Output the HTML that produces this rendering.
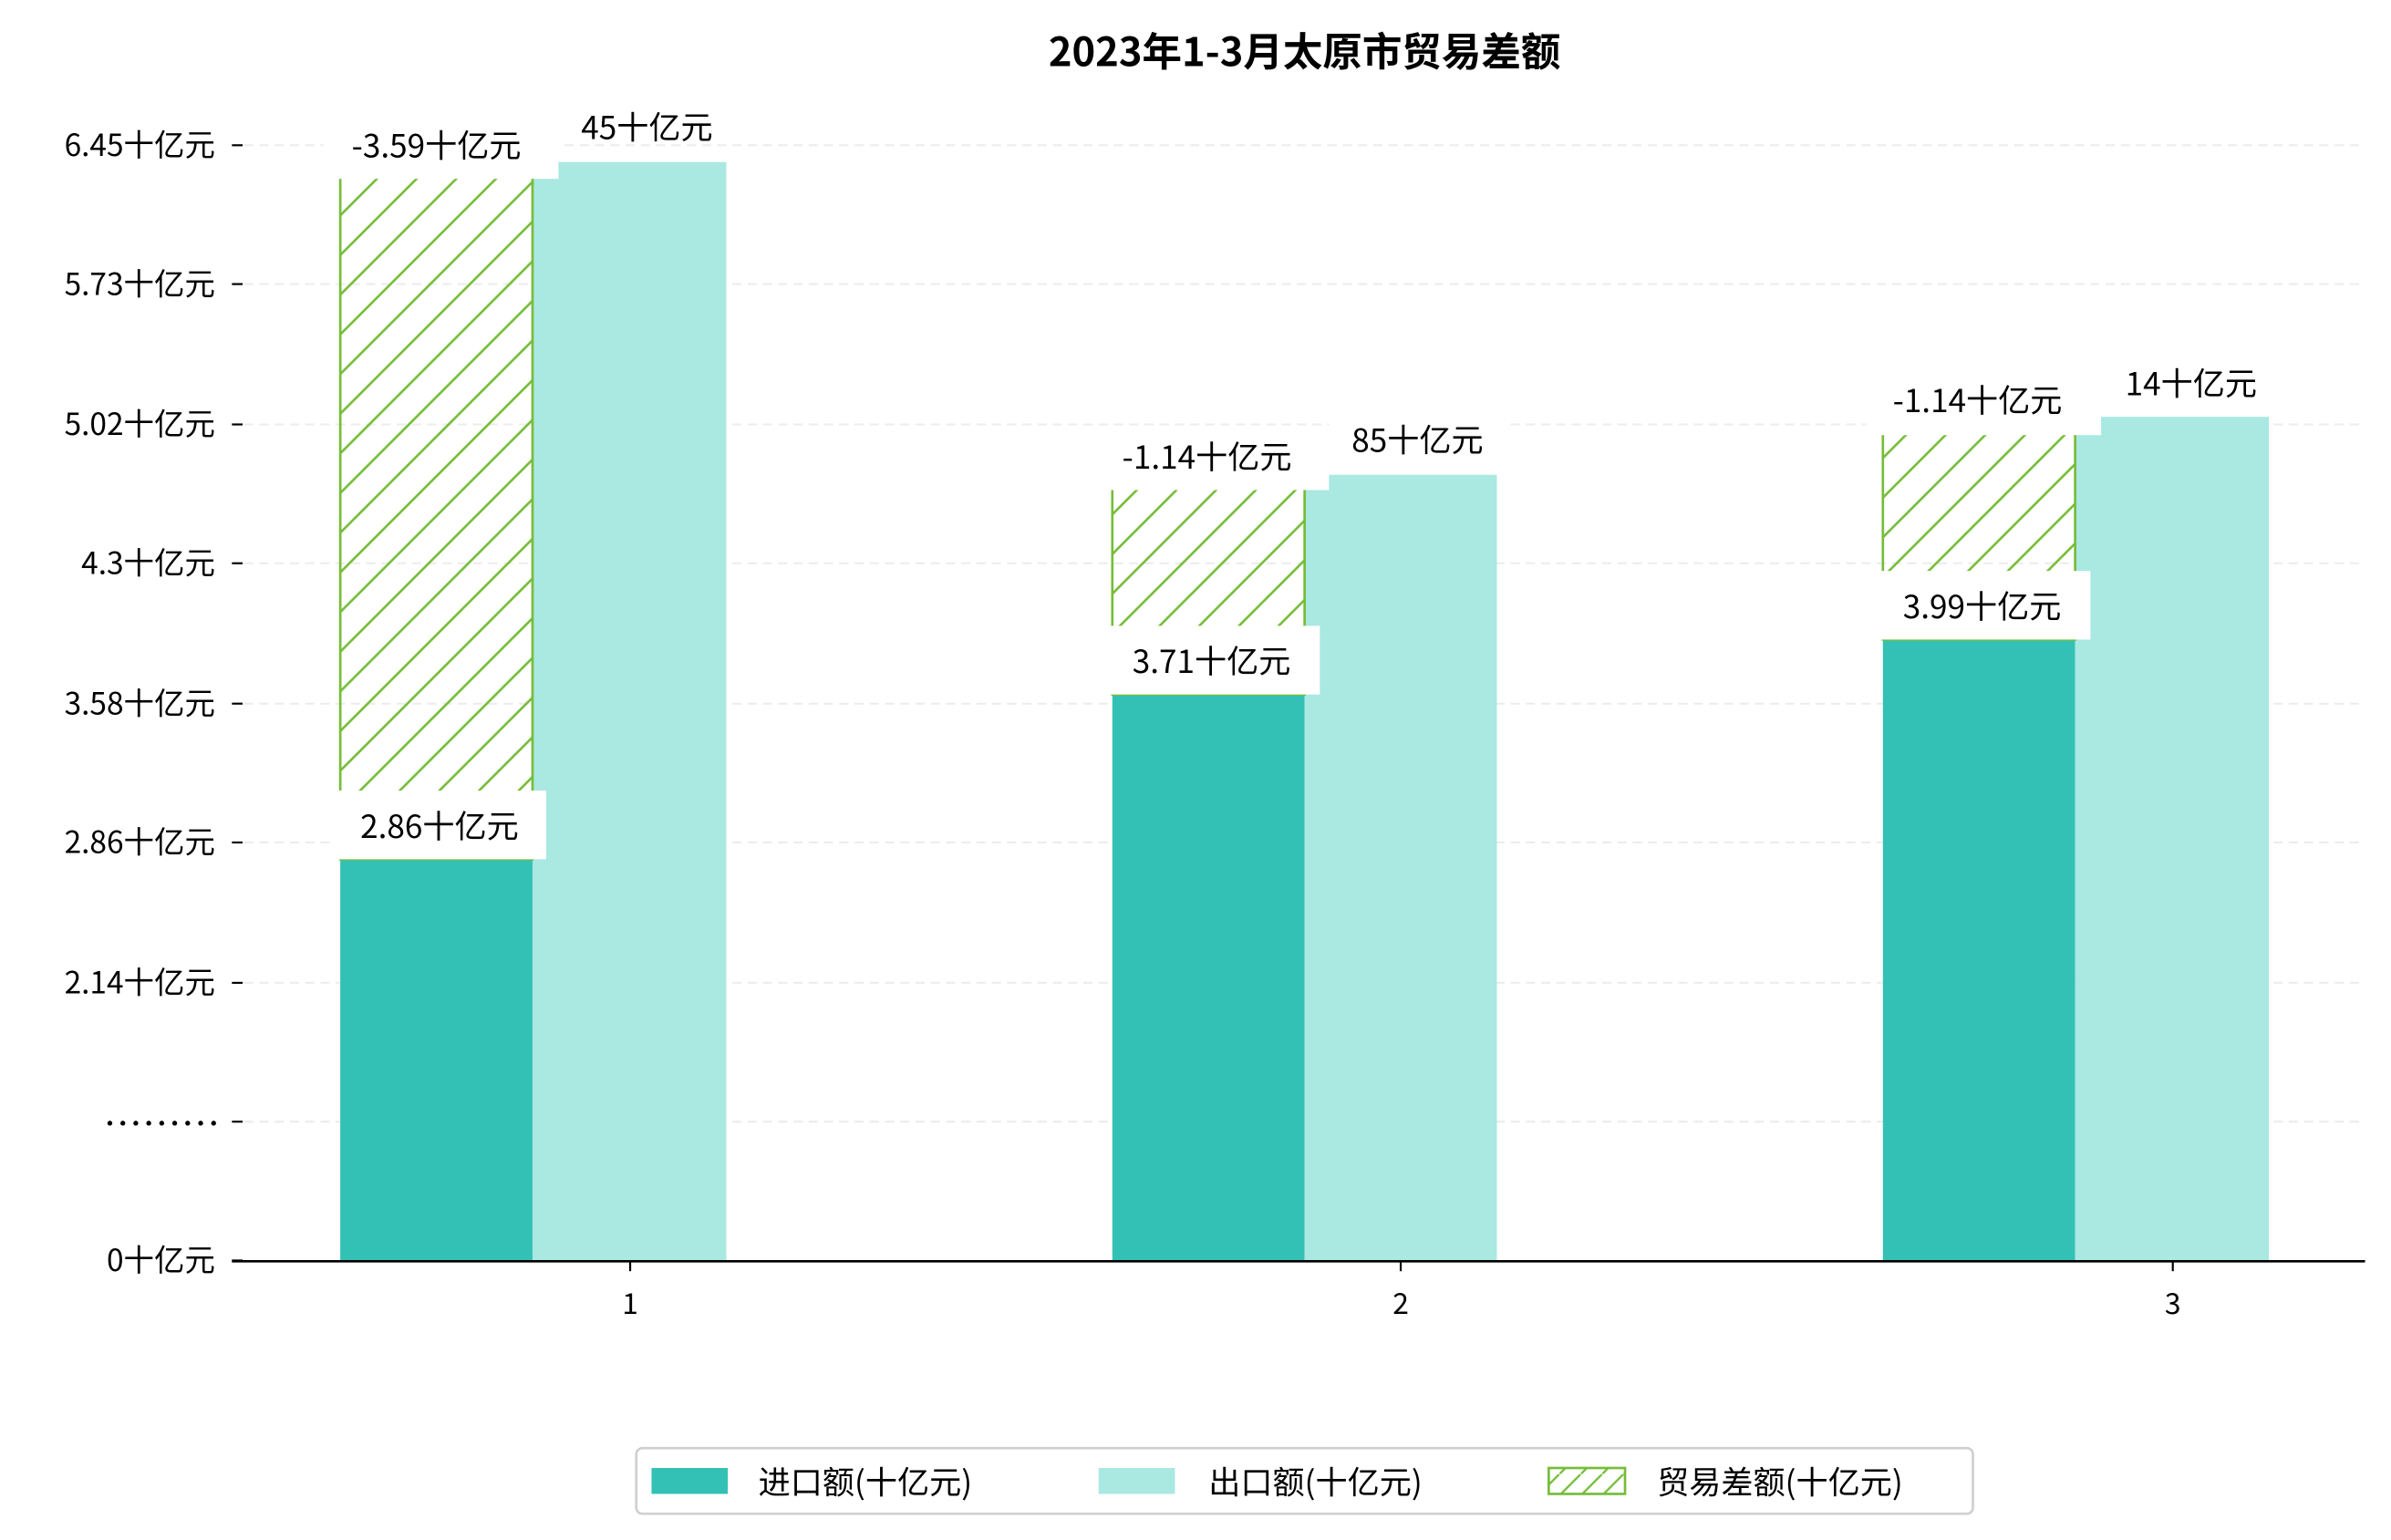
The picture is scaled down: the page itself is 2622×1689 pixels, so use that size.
<!DOCTYPE html>
<html><head><meta charset="utf-8"><style>html,body{margin:0;padding:0;background:#fff}svg{display:block}text{font-family:"WenQuanYi Zen Hei","Noto Sans CJK SC",sans-serif;fill:#000}</style></head><body>
<svg width="2622" height="1689" viewBox="0 0 1567 1009" xmlns="http://www.w3.org/2000/svg">
<defs>
<pattern id="h" patternUnits="userSpaceOnUse" width="26" height="26">
<path d="M-2,28 L28,-2 M-15,15 L15,-15 M11,41 L41,11" stroke="#76bd3a" stroke-width="1.6"/>
</pattern>
<pattern id="h2" patternUnits="userSpaceOnUse" width="14" height="14">
<path d="M-2,16 L16,-2" stroke="#76bd3a" stroke-width="1.4"/>
</pattern>
</defs>
<rect width="1567" height="1009" fill="#fff"/>
<text x="855" y="43" font-size="26" font-weight="bold" text-anchor="middle">2023年1-3月太原市贸易差额</text>
<g stroke="#ececec" stroke-width="1.2" stroke-dasharray="6,4">
<line x1="160" x2="1550" y1="95" y2="95"/><line x1="160" x2="1550" y1="186" y2="186"/><line x1="160" x2="1550" y1="278" y2="278"/><line x1="160" x2="1550" y1="369" y2="369"/><line x1="160" x2="1550" y1="461" y2="461"/><line x1="160" x2="1550" y1="552" y2="552"/><line x1="160" x2="1550" y1="644" y2="644"/><line x1="160" x2="1550" y1="735" y2="735"/>
</g>
<g font-size="20" text-anchor="end">
<text x="141" y="102">6.45十亿元</text><text x="141" y="193">5.73十亿元</text><text x="141" y="285">5.02十亿元</text><text x="141" y="376">4.3十亿元</text><text x="141" y="468">3.58十亿元</text><text x="141" y="559">2.86十亿元</text><text x="141" y="651">2.14十亿元</text><text x="141" y="833">0十亿元</text>
</g>
<g fill="#000"><circle cx="72" cy="736" r="1.6"/><circle cx="80.5" cy="736" r="1.6"/><circle cx="89" cy="736" r="1.6"/><circle cx="97.5" cy="736" r="1.6"/><circle cx="106" cy="736" r="1.6"/><circle cx="114.5" cy="736" r="1.6"/><circle cx="123" cy="736" r="1.6"/><circle cx="131.5" cy="736" r="1.6"/><circle cx="140" cy="736" r="1.6"/></g>
<g stroke="#000" stroke-width="1.3">
<line x1="152" x2="159" y1="95" y2="95"/><line x1="152" x2="159" y1="186" y2="186"/><line x1="152" x2="159" y1="278" y2="278"/><line x1="152" x2="159" y1="369" y2="369"/><line x1="152" x2="159" y1="461" y2="461"/><line x1="152" x2="159" y1="552" y2="552"/><line x1="152" x2="159" y1="644" y2="644"/><line x1="152" x2="159" y1="735" y2="735"/><line x1="152" x2="159" y1="826" y2="826"/>
</g>
<rect x="223" y="563" width="126" height="263" fill="#32c1b4"/>
<rect x="349" y="106" width="127" height="720" fill="#aae8e2"/>
<rect x="223" y="106" width="126" height="457" fill="url(#h)" stroke="#76bd3a" stroke-width="1.6"/>
<rect x="729" y="455" width="126" height="371" fill="#32c1b4"/>
<rect x="855" y="311" width="126" height="515" fill="#aae8e2"/>
<rect x="729" y="311" width="126" height="144" fill="url(#h)" stroke="#76bd3a" stroke-width="1.6"/>
<rect x="1234" y="419" width="126" height="407" fill="#32c1b4"/>
<rect x="1360" y="273" width="127" height="553" fill="#aae8e2"/>
<rect x="1234" y="273" width="126" height="146" fill="url(#h)" stroke="#76bd3a" stroke-width="1.6"/>
<g font-size="21" text-anchor="middle">
<rect x="366" y="70" width="114" height="24" fill="#fff"/><text x="424" y="91">45十亿元</text>
<rect x="212" y="80" width="154" height="37" fill="#fff"/><text x="286" y="103">-3.59十亿元</text>
<rect x="218" y="518" width="140" height="45" fill="#fff"/><text x="288" y="549">2.86十亿元</text>
<rect x="871" y="276" width="116" height="24" fill="#fff"/><text x="929" y="296">85十亿元</text>
<rect x="718" y="285" width="153" height="36" fill="#fff"/><text x="791" y="307">-1.14十亿元</text>
<rect x="724" y="410" width="141" height="45" fill="#fff"/><text x="794" y="441">3.71十亿元</text>
<rect x="1377" y="239" width="116" height="24" fill="#fff"/><text x="1436" y="259">14十亿元</text>
<rect x="1223" y="248" width="154" height="37" fill="#fff"/><text x="1296" y="270">-1.14十亿元</text>
<rect x="1229" y="374" width="141" height="45" fill="#fff"/><text x="1299" y="405">3.99十亿元</text>
</g>
<line x1="152" x2="1550" y1="826.5" y2="826.5" stroke="#000" stroke-width="1.6"/>
<g stroke="#000" stroke-width="1.3"><line x1="413" x2="413" y1="826" y2="833"/><line x1="918" x2="918" y1="826" y2="833"/><line x1="1424" x2="1424" y1="826" y2="833"/></g>
<g font-size="19" text-anchor="middle"><text x="413" y="861">1</text><text x="918" y="861">2</text><text x="1424" y="861">3</text></g>
<rect x="417" y="949" width="876" height="43" rx="4" fill="#fff" stroke="#d0d0d0" stroke-width="1.6"/>
<rect x="427" y="962" width="50" height="17" fill="#32c1b4"/>
<text x="497" y="979" font-size="21">进口额(十亿元)</text>
<rect x="720" y="962" width="50" height="17" fill="#aae8e2"/>
<text x="792" y="979" font-size="21">出口额(十亿元)</text>
<rect x="1015" y="962" width="50" height="17" fill="url(#h2)" stroke="#76bd3a" stroke-width="1.6"/>
<text x="1086" y="979" font-size="21">贸易差额(十亿元)</text>
</svg>
</body></html>
